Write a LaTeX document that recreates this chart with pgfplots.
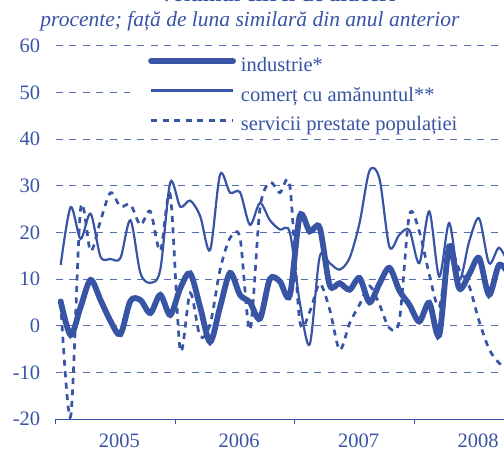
\documentclass[border=0pt]{standalone}
\usepackage{fontspec}
\setmainfont{Liberation Serif}
\usepackage{pgfplots}
\pgfplotsset{compat=1.18}
\definecolor{bnm}{RGB}{56,84,164}

\pgfplotstableread{
m v
0.5 5.2
1.5 -2
2.5 4
3.5 9.8
4.5 5.5
5.5 1
6.5 -1.8
7.5 5.3
8.5 5.5
9.5 2.7
10.5 6.6
11.5 2.3
12.5 8
13.5 11.2
14.5 4
15.5 -3.5
16.5 4
17.5 11.3
18.5 6.6
19.5 5
20.5 1.5
21.5 10
22.5 9.5
23.5 6.5
24.5 23.5
25.5 20.2
26.5 21
27.5 8.7
28.5 9.1
29.5 7.7
30.5 10.2
31.5 5
32.5 9
33.5 12.4
34.5 7.5
35.5 4.5
36.5 0.9
37.5 4.9
38.5 -2
39.5 17
40.5 8
41.5 11
42.5 14.5
43.5 6.6
44.5 13
45.5 11
}\industrie

\pgfplotstableread{
m v
0.5 13
1.5 25.4
2.5 18.6
3.5 24
4.5 14.8
5.5 14.3
6.5 14.5
7.5 22.6
8.5 11.3
9.5 9.2
10.5 12
11.5 30.7
12.5 25.5
13.5 26.8
14.5 23.5
15.5 16.2
16.5 32.4
17.5 28.5
18.5 28.6
19.5 21.6
20.5 26.3
21.5 22.6
22.5 20.6
23.5 20
24.5 5
25.5 -4
26.5 14.8
27.5 13.4
28.5 12
29.5 14.5
30.5 22
31.5 33.2
32.5 31.5
33.5 16.9
34.5 19.5
35.5 20.5
36.5 13.4
37.5 24.5
38.5 10.5
39.5 22
40.5 9.8
41.5 18
42.5 23
43.5 13.4
44.5 16.7
45.5 13
}\comert

\pgfplotstableread{
m v
0.5 5
1.5 -19.5
2.5 25
3.5 16
4.5 22.5
5.5 28.5
6.5 25.5
7.5 26
8.5 21.6
9.5 24.5
10.5 16
11.5 28
12.5 -5.2
13.5 7
14.5 -2.3
15.5 0.3
16.5 12
17.5 18.8
18.5 18.8
19.5 -0.9
20.5 25
21.5 30.7
22.5 28.5
23.5 30
24.5 1
25.5 3
26.5 9
27.5 3.5
28.5 -5.2
29.5 0.5
30.5 4.5
31.5 8.5
32.5 4.5
33.5 -0.5
34.5 1.2
35.5 23.7
36.5 20.2
37.5 11
38.5 4.1
39.5 16.6
40.5 12
41.5 8.5
42.5 1
43.5 -5
44.5 -8
45.5 -9.5
}\servicii

\begin{document}
\begin{tikzpicture}[font=\fontsize{20}{24}\selectfont]
\begin{axis}[
  scale only axis, width=448.3pt, height=373.3pt,
  at={(0pt,0pt)}, anchor=south west,
  xmin=0, xmax=45, ymin=-20, ymax=60,
  axis x line*=bottom, axis y line*=left,
  y axis line style={draw=none},
  x axis line style={bnm, line width=0.9pt, -},
  xtick={0,12,24,36,48}, xticklabels={},
  extra x ticks={6.4,18.4,30.4,42.4},
  extra x tick labels={2005,2006,2007,2008},
  extra x tick style={major tick length=0pt, xticklabel style={anchor=north, yshift=-11pt}},
  tick align=outside, major tick length=5pt,
  xtick style={bnm, line width=0.9pt},
  ytick={-20,-10,...,60},
  yticklabels={-20,-10,0,10,20,30,40,50,60},
  ytick style={draw=none},
  yticklabel style={anchor=east, xshift=-7pt},
  tick label style={text=bnm, font=\fontsize{20.5}{24}\selectfont},
  ymajorgrids,
  major grid style={bnm!85, line width=0.9pt, dash pattern=on 7pt off 6.6pt},
  legend style={draw=none, fill=white, at={(0.1657,0.977)}, anchor=north west,
    inner xsep=18pt, inner ysep=2pt, row sep=10.6pt, column sep=5pt,
    nodes={inner sep=0pt, text height=15pt, text depth=4pt},
    font=\fontsize{20.5}{24}\selectfont, text=bnm},
  legend cell align=left,
  legend image code/.code={\draw[#1] (0pt,5pt) -- (82pt,5pt);},
]
\addplot[bnm, line width=5.8pt, line cap=round, smooth] table[x=m,y=v]{\industrie};
\addlegendentry{\makebox[250pt][l]{industrie*}}
\addplot[bnm, line width=2.2pt, smooth] table[x=m,y=v]{\comert};
\addlegendentry{\makebox[250pt][l]{comerț cu amănuntul**}}
\addplot[bnm, line width=2.7pt, dash pattern=on 6pt off 5.5pt, smooth] table[x=m,y=v]{\servicii};
\addlegendentry{\makebox[250pt][l]{servicii prestate populației}}
\end{axis}
\node[anchor=base, text=bnm, font=\fontsize{22.5}{26}\selectfont\bfseries] at (221.3pt,417.5pt) {Volumul cifrei de afaceri};
\node[anchor=base, text=bnm, font=\fontsize{21.5}{24}\selectfont\itshape] at (194.3pt,392pt) {procente; față de luna similară din anul anterior};
\pgfresetboundingbox
\useasboundingbox (-55.7pt,-32pt) rectangle (448.3pt,419pt);
\end{tikzpicture}
\end{document}
